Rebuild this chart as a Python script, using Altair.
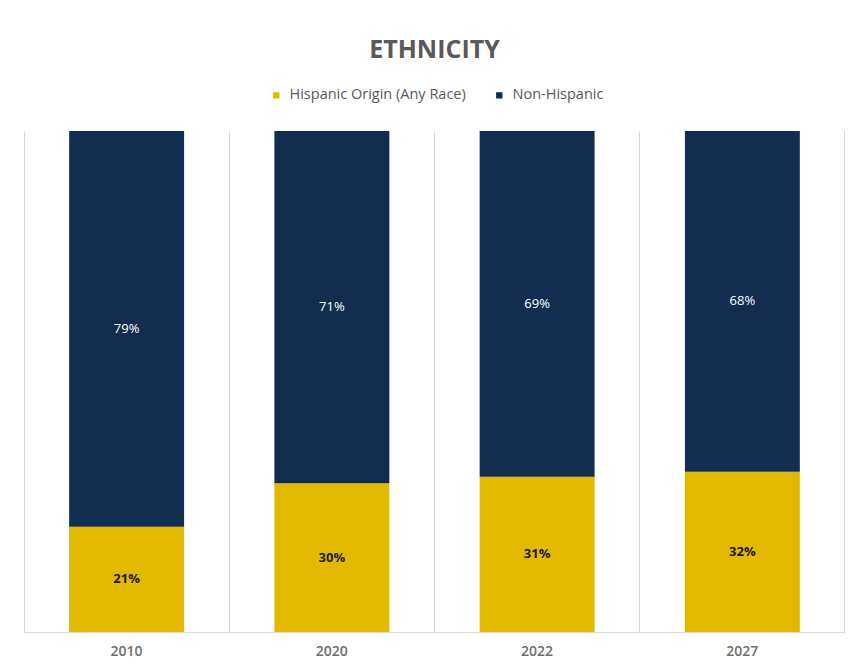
import altair as alt
import pandas as pd

years = ["2010", "2020", "2022", "2027"]
hispanic = [21, 30, 31, 32]
non_hispanic = [79, 71, 69, 68]
series = ["Hispanic Origin (Any Race)", "Non-Hispanic"]
colors = ["#E3B800", "#112E51"]

rows = []
for i, y in enumerate(years):
    rows.append({"year": y, "group": series[0], "order": 0, "value": hispanic[i]})
    rows.append({"year": y, "group": series[1], "order": 1, "value": non_hispanic[i]})
df = pd.DataFrame(rows)

W, H = 821, 501
FONT = "Open Sans"

base = alt.Chart(df).transform_joinaggregate(
    total="sum(value)", groupby=["year"]
).transform_window(
    cum="sum(value)", groupby=["year"], sort=[alt.SortField("order")], frame=[None, 0]
).transform_calculate(
    y1="datum.cum / datum.total",
    y0="(datum.cum - datum.value) / datum.total",
    ymid="(datum.cum - datum.value / 2) / datum.total",
    label="datum.value + '%'",
)

xenc = alt.X(
    "year:N",
    sort=years,
    title=None,
    scale=alt.Scale(paddingInner=0, paddingOuter=0),
    axis=alt.Axis(
        grid=True, bandPosition=0, gridColor="#D9D9D9", gridWidth=1,
        domainColor="#D9D9D9", ticks=False, labelPadding=12,
        labelFont=FONT, labelFontSize=14, labelFontWeight=600,
        labelColor="#6E6E6E", labelAngle=0,
    ),
)
yscale = alt.Scale(domain=[0, 1])

bars = base.mark_bar(width=alt.RelativeBandSize(0.56)).encode(
    x=xenc,
    y=alt.Y("y0:Q", scale=yscale, axis=None),
    y2="y1:Q",
    color=alt.Color(
        "group:N",
        scale=alt.Scale(domain=series, range=colors),
        legend=alt.Legend(
            title=None, orient="none", direction="horizontal",
            legendX=245, legendY=-43, symbolType="square", symbolSize=40,
            symbolStrokeWidth=0, labelFont=FONT, labelFontSize=14.5,
            labelColor="#595959", columnPadding=26, symbolOffset=0, labelOffset=6,
            labelLimit=400,
        ),
    ),
)

txt_nh = base.transform_filter(alt.datum.order == 1).mark_text(
    color="white", font=FONT, fontSize=13, baseline="middle"
).encode(x=alt.X("year:N", sort=years), y=alt.Y("ymid:Q", scale=yscale), text="label:N")

txt_h = base.transform_filter(alt.datum.order == 0).mark_text(
    color="#1a1a1a", font=FONT, fontSize=13, fontWeight="bold", baseline="middle"
).encode(x=alt.X("year:N", sort=years), y=alt.Y("ymid:Q", scale=yscale), text="label:N")

edge = alt.Chart(df).mark_rule(color="#D9D9D9").encode(
    x=alt.value(W), y=alt.value(0), y2=alt.value(H)
)

chart = alt.layer(bars, txt_nh, txt_h, edge).properties(
    width=W, height=H,
    title=alt.TitleParams(
        "ETHNICITY", font=FONT, fontSize=25, fontWeight="bold",
        color="#595959", anchor="middle", offset=25,
    ),
    autosize=alt.AutoSizeParams(type="none"),
    padding={"left": 16, "top": 123, "right": 0, "bottom": 30},
).configure_view(stroke=None)

chart.save("out.html", embed_options={"renderer": "svg", "actions": False})
